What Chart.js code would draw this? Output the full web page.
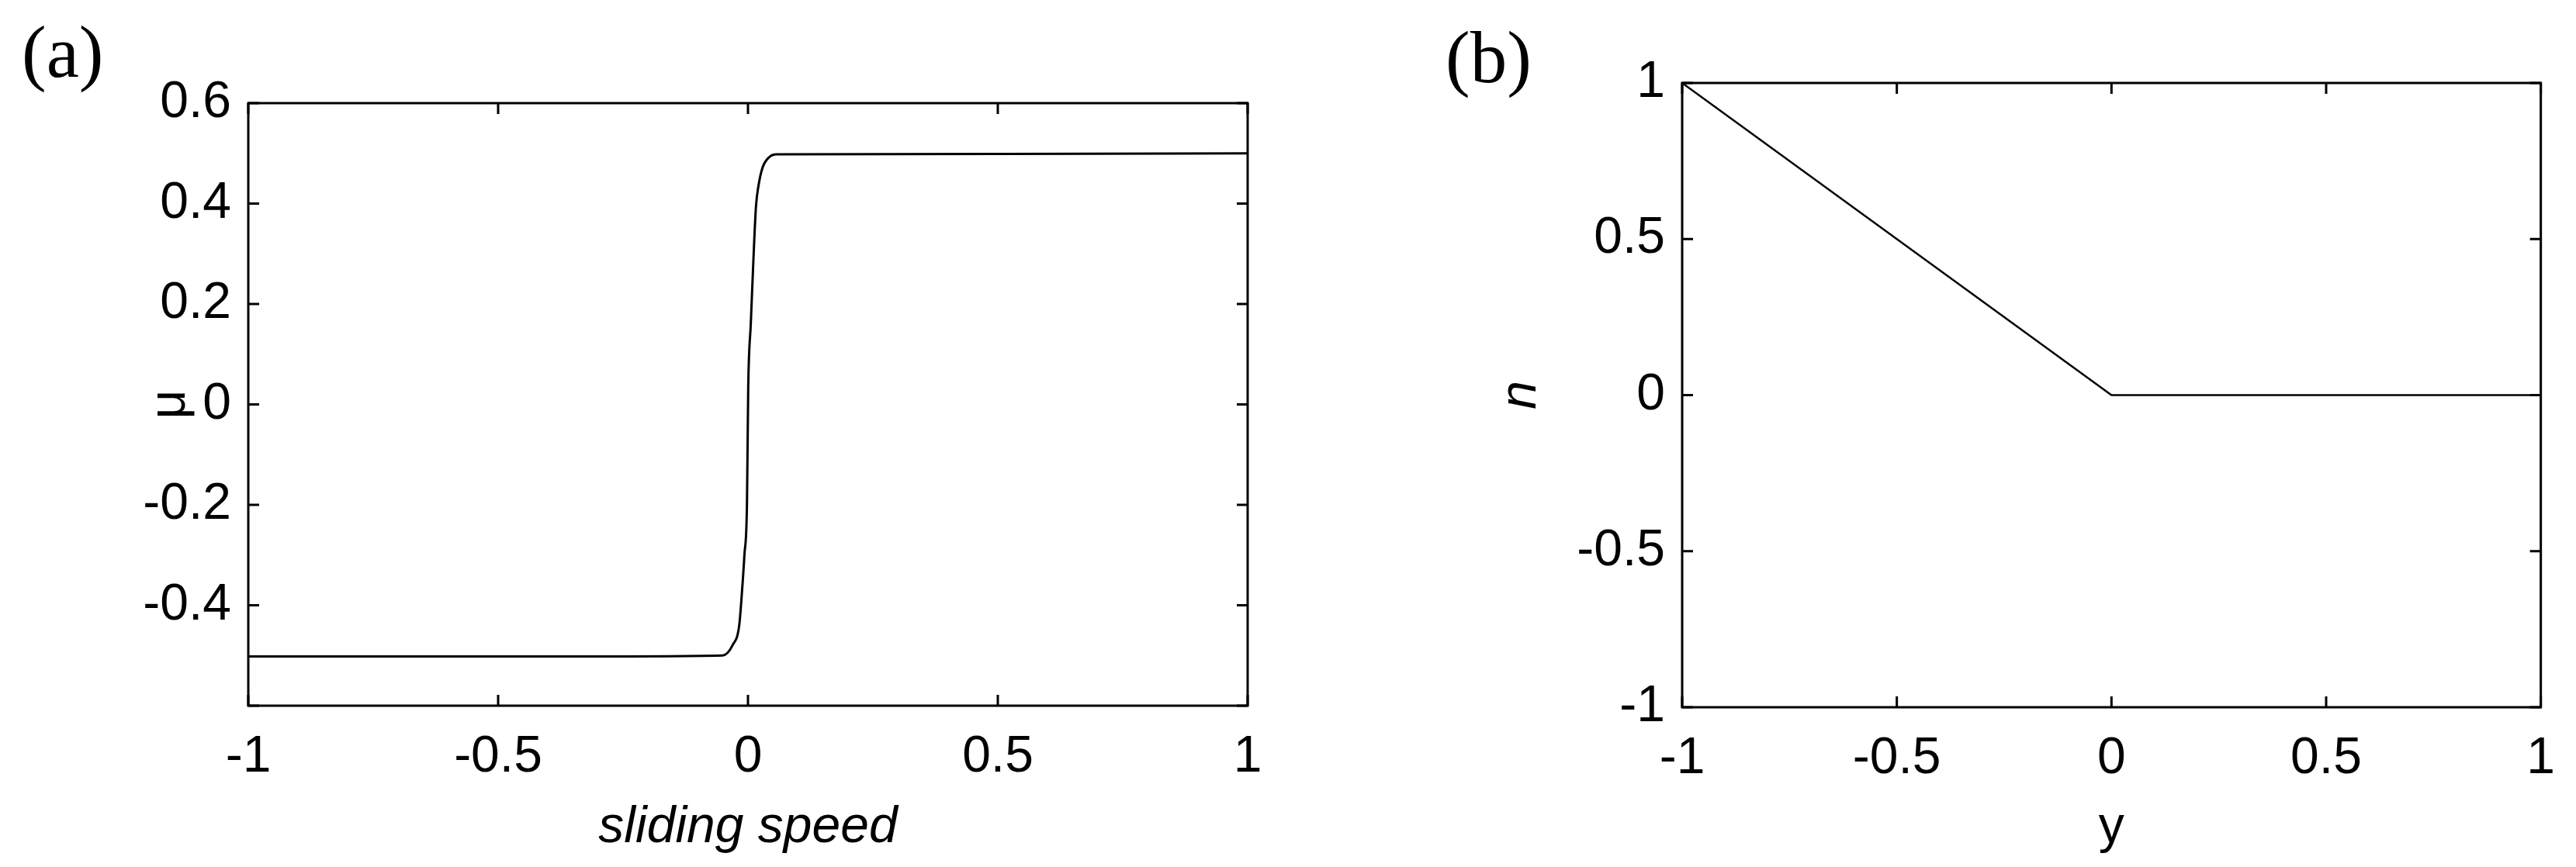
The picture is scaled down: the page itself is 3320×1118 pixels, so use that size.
<!DOCTYPE html>
<html>
<head>
<meta charset="utf-8">
<script src="https://cdn.jsdelivr.net/npm/chart.js@4"></script>
<style>
  body { margin: 0; background: #fff; }
  #wrap { position: relative; width: 3320px; height: 1118px; overflow: hidden; }
  .box { position: absolute; top: 0; height: 1118px; }
  .panel { position: absolute; font-family: "Liberation Serif", serif; font-size: 95px; line-height: 1; color: #000; }
</style>
</head>
<body>
<div id="wrap">
  <div class="box" style="left:0;width:1700px"><canvas id="chartA"></canvas></div>
  <div class="box" style="left:1700px;width:1620px"><canvas id="chartB"></canvas></div>
  <div class="panel" style="left:28px;top:20px">(a)</div>
  <div class="panel" style="left:1863px;top:27px">(b)</div>
</div>
<script>
// panel (a): friction coefficient vs sliding speed
const speed = [-1, -0.35, -0.051, -0.0305, -0.0175, -0.0124, -0.0072, -0.002, 0.0005, 0.0057, 0.011, 0.016, 0.021, 0.029, 0.042, 0.057, 0.5, 1];
const mu = [-0.502, -0.502, -0.5, -0.479, -0.44, -0.379, -0.301, -0.198, 0.033, 0.162, 0.291, 0.394, 0.435, 0.471, 0.492, 0.498, 0.499, 0.5];
const speedTicks = [-1, -0.5, 0, 0.5, 1];
const muTicks = [-0.6, -0.4, -0.2, 0, 0.2, 0.4, 0.6];

// panel (b): n vs y
const yVals = [-1, 0, 1];
const nVals = [1, 0, 0];
const yTicks = [-1, -0.5, 0, 0.5, 1];
const nTicks = [-1, -0.5, 0, 0.5, 1];

const tickFont = { family: "Liberation Sans", size: 66 };

// box around the plot area with inward ticks on all four sides
const frameTicks = {
    id: "frameTicks",
    afterDraw(chart) {
        const { ctx, chartArea: a, scales: { x, y } } = chart;
        const len = 14;
        ctx.save();
        ctx.strokeStyle = "#000";
        ctx.lineWidth = 3;
        ctx.strokeRect(a.left, a.top, a.right - a.left, a.bottom - a.top);
        ctx.beginPath();
        x.ticks.forEach(t => {
            const px = x.getPixelForValue(t.value);
            ctx.moveTo(px, a.bottom); ctx.lineTo(px, a.bottom - len);
            ctx.moveTo(px, a.top); ctx.lineTo(px, a.top + len);
        });
        y.ticks.forEach(t => {
            const py = y.getPixelForValue(t.value);
            ctx.moveTo(a.left, py); ctx.lineTo(a.left + len, py);
            ctx.moveTo(a.right, py); ctx.lineTo(a.right - len, py);
        });
        ctx.stroke();
        ctx.restore();
    }
};

function makeChart(canvasId, xs, ys, cfg) {
    const ctx = document.getElementById(canvasId);
    return new Chart(ctx, {
        type: "line",
        data: {
            datasets: [{
                data: xs.map((v, i) => ({ x: v, y: ys[i] })),
                borderColor: "#000",
                borderWidth: cfg.lineWidth,
                pointRadius: 0,
                tension: 0,
                cubicInterpolationMode: cfg.smooth ? "monotone" : "default"
            }]
        },
        options: {
            responsive: true,
            maintainAspectRatio: false,
            animation: false,
            layout: { padding: cfg.padding },
            plugins: { legend: { display: false }, tooltip: { enabled: false } },
            scales: {
                x: {
                    type: "linear",
                    min: cfg.xTicks[0],
                    max: cfg.xTicks[cfg.xTicks.length - 1],
                    afterBuildTicks: s => { s.ticks = cfg.xTicks.map(v => ({ value: v })); },
                    afterFit: s => { s.height = cfg.xAxisHeight; },
                    grid: { display: false, drawTicks: false },
                    border: { display: false },
                    ticks: {
                        font: tickFont, color: "#000", padding: 27,
                        autoSkip: false, maxRotation: 0,
                        callback: v => String(v)
                    },
                    title: {
                        display: true, text: cfg.xTitle, color: "#000",
                        font: { family: "Liberation Sans", size: 66, style: cfg.xTitleStyle },
                        padding: { top: 0, bottom: 11 }
                    }
                },
                y: {
                    min: cfg.yTicks[0],
                    max: cfg.yTicks[cfg.yTicks.length - 1],
                    afterBuildTicks: s => { s.ticks = cfg.yTicks.map(v => ({ value: v })); },
                    afterFit: s => { s.width = cfg.yAxisWidth; },
                    grid: { display: false, drawTicks: false },
                    border: { display: false },
                    ticks: {
                        font: tickFont, color: "#000", padding: 22,
                        autoSkip: false,
                        callback: cfg.yLabel
                    },
                    title: {
                        display: true, text: cfg.yTitle, color: "#000",
                        font: { family: "Liberation Sans", size: 66, style: cfg.yTitleStyle },
                        padding: { top: cfg.yTitlePad, bottom: 0 }
                    }
                }
            }
        },
        plugins: [frameTicks]
    });
}

makeChart("chartA", speed, mu, {
    lineWidth: 3,
    smooth: true,
    padding: { top: 133, right: 92, bottom: 0, left: 0 },
    xTicks: speedTicks,
    yTicks: muTicks,
    xAxisHeight: 208,
    yAxisWidth: 320,
    xTitle: "sliding speed",
    xTitleStyle: "italic",
    yTitle: "\u03bc",
    yTitleStyle: "normal",
    yTitlePad: 180,
    yLabel: v => (v < -0.55 ? "" : String(Math.round(v * 10) / 10))
});

makeChart("chartB", yVals, nVals, {
    lineWidth: 2.5,
    smooth: false,
    padding: { top: 107, right: 42, bottom: 0, left: 0 },
    xTicks: yTicks,
    yTicks: nTicks,
    xAxisHeight: 206,
    yAxisWidth: 468,
    xTitle: "y",
    xTitleStyle: "normal",
    yTitle: "n",
    yTitleStyle: "italic",
    yTitlePad: 221,
    yLabel: v => String(v)
});
</script>
</body>
</html>
